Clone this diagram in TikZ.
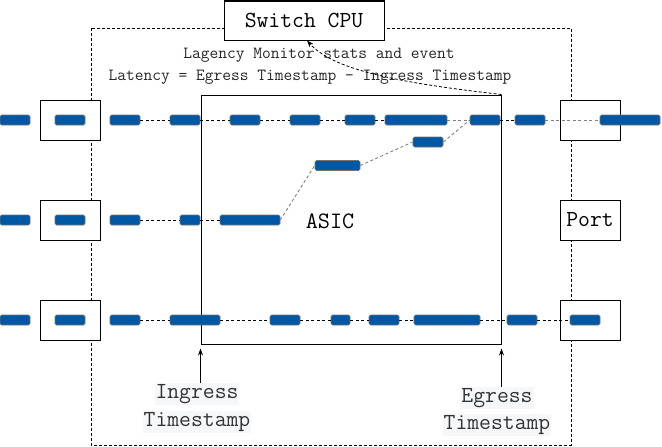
\documentclass[tikz,border=0pt]{standalone}
\usepackage{fontspec}
\usetikzlibrary{arrows.meta, positioning}
\definecolor{pktblue}{HTML}{0057A3}
\definecolor{labelbg}{HTML}{F6F7F9}

\begin{document}
\begin{tikzpicture}[x=1pt, y=-1pt]
    % Define styles
    \tikzset{
        pkt/.style={draw=black!55, fill=pktblue, rounded corners=1.5pt, minimum height=10pt, inner sep=0pt, line width=0.6pt},
        portbox/.style={draw, fill=white, line width=1pt, minimum width=60pt, minimum height=40pt, inner sep=0pt, font=\ttfamily\fontsize{23}{25}\selectfont},
        flow/.style={dash pattern=on 3pt off 2.5pt, line width=0.9pt},
        note/.style={font=\ttfamily\fontsize{17}{19}\selectfont, text=black!85, inner sep=0pt},
        stamp/.style={fill=labelbg, inner sep=1pt, font=\ttfamily\fontsize{23}{25}\selectfont, text=black!80},
        tip/.style={-{Stealth[length=7pt, width=5pt]}, line width=0.8pt}
    }
    \useasboundingbox (0,0) rectangle (662,447);
    % Switch boundary
    \draw[dash pattern=on 3pt off 2pt, line width=0.9pt] (91,28) rectangle (571,445);
    % Switch CPU on top
    \node[draw, fill=white, line width=1pt, minimum width=160pt, minimum height=39pt, font=\ttfamily\fontsize{23}{25}\selectfont] (cpu) at (304,20.5) {Switch CPU};
    % Ports on both sides
    \foreach \y [count=\i] in {120,220,320}
        \node[portbox] (portL\i) at (70,\y) {};
    \node[portbox] (portR1) at (590,120) {};
    \node[portbox] (portR2) at (590,220) {Port};
    \node[portbox] (portR3) at (590,320) {};
    % ASIC
    \node[draw, line width=1pt, minimum width=300pt, minimum height=249pt] (asic) at (351,219.5) {};
    \node[font=\ttfamily\fontsize{23.5}{25}\selectfont] (asiclbl) at (330,221) {ASIC};
    % Packets, row 1
    \foreach \a/\b [count=\i] in {0/30,55/85,110/140,170/200,230/260,290/320,345/375,385/447,470/500,515/545,600/660}
        \node[pkt, minimum width={\b-\a}] (r1b\i) at ({(\a+\b)/2},120) {};
    \foreach \i/\j/\c in {3/4/black,4/5/black,5/6/black,6/7/black,7/8/black,8/9/gray,9/10/black,10/11/gray}
        \draw[flow, \c] (r1b\i.east) -- (r1b\j.west);
    % Packets, row 2 (going up to row 1)
    \foreach \a/\b [count=\i] in {0/30,55/85,110/140,180/200,220/280}
        \node[pkt, minimum width={\b-\a}] (r2b\i) at ({(\a+\b)/2},220) {};
    \node[pkt, minimum width=45] (up2) at (337.5,165.5) {};
    \node[pkt, minimum width=30] (up1) at (428,142) {};
    \foreach \i/\j in {3/4,4/5}
        \draw[flow] (r2b\i.east) -- (r2b\j.west);
    \draw[flow, gray] (r2b5.east) -- (up2.west);
    \draw[flow, gray] (up2.east) -- (up1.west);
    \draw[flow, gray] (up1.east) -- (r1b9.west);
    % Packets, row 3
    \foreach \a/\b [count=\i] in {0/30,55/85,110/140,170/220,270/300,331/350,369/399,414/480,507/537,570/600}
        \node[pkt, minimum width={\b-\a}] (r3b\i) at ({(\a+\b)/2},320) {};
    \foreach \i/\j in {3/4,4/5,5/6,6/7,7/8,8/9,9/10}
        \draw[flow] (r3b\i.east) -- (r3b\j.west);
    % Monitor report to the CPU
    \node[note] (note1) at (319,55) {Lagency Monitor stats and event};
    \node[note] (note2) at (310,77) {Latency = Egress Timestamp - Ingress Timestamp};
    \draw[dash pattern=on 3pt off 2pt, line width=0.8pt, tip] (asic.north east) .. controls (410,84) and (335,72) .. ([xshift=3pt]cpu.south);
    % Timestamps
    \node[stamp] (ing1) at (197,394) {Ingress};
    \node[stamp] (ing2) at (197,422) {Timestamp};
    \node[stamp] (egr1) at (497,398) {Egress};
    \node[stamp] (egr2) at (497,425) {Timestamp};
    \coordinate (ingtip) at ([yshift=-4pt]asic.south west);
    \coordinate (egrtip) at ([yshift=-4pt]asic.south east);
    \draw[tip] (ingtip |- ing1.north) -- (ingtip);
    \draw[tip] (egrtip |- egr1.north) -- (egrtip);
\end{tikzpicture}
\end{document}
